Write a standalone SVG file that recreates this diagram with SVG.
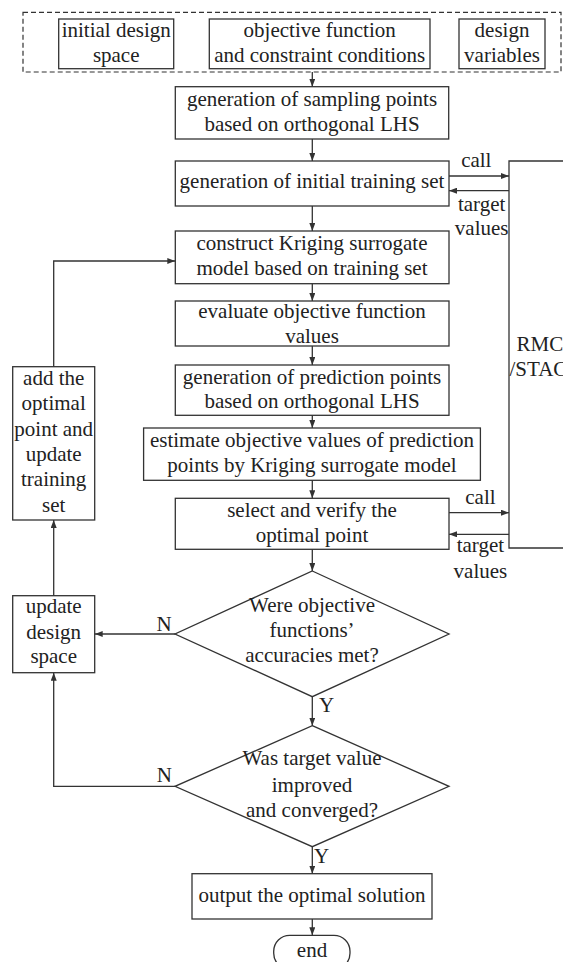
<svg xmlns="http://www.w3.org/2000/svg" width="563" height="962" viewBox="0 0 563 962">
<style>
text{font-family:"Liberation Serif","Times New Roman",serif;font-size:21px;fill:#222;text-anchor:middle}
.b{fill:#fff;stroke:#333;stroke-width:1.3}
.l{fill:none;stroke:#333;stroke-width:1.3}
.dash{fill:none;stroke:#333;stroke-width:1.2;stroke-dasharray:5,3}
</style>
<defs>
<marker id="ah" viewBox="0 0 8 6" refX="8" refY="3" markerWidth="8" markerHeight="6" markerUnits="userSpaceOnUse" orient="auto">
<path d="M0,0 L8,3 L0,6 Z" fill="#333"/>
</marker>
</defs>
<rect width="563" height="962" fill="#fff"/>

<g id="inputs">
<rect class="dash" x="23" y="12.3" width="538" height="59.7"/>
</g>
<g id="n-initial-space">
<rect class="b" x="58.7" y="19" width="115" height="49.7"/>
<text x="116.2" y="37">initial design</text>
<text x="116.2" y="61.5">space</text>
</g>
<g id="n-objective">
<rect class="b" x="209.3" y="19" width="220.7" height="49.7"/>
<text x="319.7" y="37">objective function</text>
<text x="319.7" y="61.5">and constraint conditions</text>
</g>
<g id="n-variables">
<rect class="b" x="459" y="19" width="86" height="49.7"/>
<text x="502" y="37">design</text>
<text x="502" y="61.5">variables</text>
</g>

<g id="n-sampling">
<rect class="b" x="175.3" y="86.7" width="273.4" height="52.3"/>
<text x="312" y="106">generation of sampling points</text>
<text x="312" y="130.5">based on orthogonal LHS</text>
</g>
<g id="n-training">
<rect class="b" x="175.3" y="161" width="273.7" height="45"/>
<text x="312" y="188.3">generation of initial training set</text>
</g>
<g id="n-construct">
<rect class="b" x="175.3" y="231" width="273.7" height="52.7"/>
<text x="312" y="250">construct Kriging surrogate</text>
<text x="312" y="275">model based on training set</text>
</g>
<g id="n-evaluate">
<rect class="b" x="175.3" y="301" width="273.7" height="45"/>
<text x="312" y="318.3">evaluate objective function</text>
<text x="312" y="342.7">values</text>
</g>
<g id="n-prediction">
<rect class="b" x="175.3" y="365" width="273.7" height="50.3"/>
<text x="312" y="383.5">generation of prediction points</text>
<text x="312" y="408.3">based on orthogonal LHS</text>
</g>
<g id="n-estimate">
<rect class="b" x="143.6" y="428" width="336.8" height="52.3"/>
<text x="312" y="446.7">estimate objective values of prediction</text>
<text x="312" y="471.7">points by Kriging surrogate model</text>
</g>
<g id="n-select">
<rect class="b" x="175.3" y="498.3" width="273.7" height="51"/>
<text x="312" y="517.3">select and verify the</text>
<text x="312" y="541.7">optimal point</text>
</g>
<g id="n-solver">
<path class="l" d="M563,161 H509 V548 H563"/>
<text x="516.5" y="351" style="text-anchor:start">RMC</text>
<text x="509.5" y="376" style="text-anchor:start">/STAC</text>
</g>
<g id="n-accuracy">
<polygon class="b" points="312.3,571 449,634 312.3,696.7 175,634"/>
<text x="312" y="611.7">Were objective</text>
<text x="312" y="636.7">functions’</text>
<text x="312" y="661.7">accuracies met?</text>
</g>
<g id="n-converged">
<polygon class="b" points="312.3,725.7 449,786.3 312.3,846.7 175,786.3"/>
<text x="312" y="765">Was target value</text>
<text x="312" y="791.7">improved</text>
<text x="312" y="816.7">and converged?</text>
</g>
<g id="n-output">
<rect class="b" x="192" y="873.7" width="240" height="45.3"/>
<text x="312" y="901.7">output the optimal solution</text>
</g>
<g id="n-end">
<rect class="b" x="273.7" y="935.3" width="76.3" height="34" rx="16" ry="16"/>
<text x="312" y="956.7">end</text>
</g>
<g id="n-add">
<rect class="b" x="12.7" y="366.7" width="82" height="153.3"/>
<text x="53.7" y="385">add the</text>
<text x="53.7" y="410.3">optimal</text>
<text x="53.7" y="435.6">point and</text>
<text x="53.7" y="461">update</text>
<text x="53.7" y="486.3">training</text>
<text x="53.7" y="511.6">set</text>
</g>
<g id="n-update">
<rect class="b" x="12.7" y="595.7" width="82" height="77"/>
<text x="53.7" y="613.3">update</text>
<text x="53.7" y="638.5">design</text>
<text x="53.7" y="663.3">space</text>
</g>

<g id="connectors">
<line class="l" x1="312.3" y1="72" x2="312.3" y2="86.7" marker-end="url(#ah)"/>
<line class="l" x1="312.3" y1="139" x2="312.3" y2="161" marker-end="url(#ah)"/>
<line class="l" x1="312.3" y1="206" x2="312.3" y2="231" marker-end="url(#ah)"/>
<line class="l" x1="312.3" y1="283.7" x2="312.3" y2="301" marker-end="url(#ah)"/>
<line class="l" x1="312.3" y1="346" x2="312.3" y2="365" marker-end="url(#ah)"/>
<line class="l" x1="312.3" y1="415.3" x2="312.3" y2="428" marker-end="url(#ah)"/>
<line class="l" x1="312.3" y1="480.3" x2="312.3" y2="498.3" marker-end="url(#ah)"/>
<line class="l" x1="312.3" y1="549.3" x2="312.3" y2="571" marker-end="url(#ah)"/>
<line class="l" x1="312.3" y1="696.7" x2="312.3" y2="725.7" marker-end="url(#ah)"/>
<line class="l" x1="312.3" y1="846.7" x2="312.3" y2="873.7" marker-end="url(#ah)"/>
<line class="l" x1="312.3" y1="919" x2="312.3" y2="935.3" marker-end="url(#ah)"/>
<line class="l" x1="449" y1="176" x2="509" y2="176" marker-end="url(#ah)"/>
<line class="l" x1="509" y1="190.7" x2="449" y2="190.7" marker-end="url(#ah)"/>
<line class="l" x1="449" y1="512.7" x2="509" y2="512.7" marker-end="url(#ah)"/>
<line class="l" x1="509" y1="534.3" x2="449" y2="534.3" marker-end="url(#ah)"/>
<line class="l" x1="175" y1="634" x2="94.7" y2="634" marker-end="url(#ah)"/>
<polyline class="l" points="175,786.3 53.7,786.3 53.7,672.7" marker-end="url(#ah)"/>
<line class="l" x1="53.7" y1="595.7" x2="53.7" y2="520" marker-end="url(#ah)"/>
<polyline class="l" points="53.7,366.7 53.7,261 175.3,261" marker-end="url(#ah)"/>
<text x="476.3" y="166.7">call</text>
<text x="481.7" y="210.7">target</text>
<text x="481.7" y="235">values</text>
<text x="480.4" y="504">call</text>
<text x="480.4" y="552">target</text>
<text x="480.4" y="578.3">values</text>
<text x="164" y="631">N</text>
<text x="164.3" y="781.7">N</text>
<text x="326.7" y="711.7">Y</text>
<text x="321.7" y="863.3">Y</text>
</g>
</svg>
